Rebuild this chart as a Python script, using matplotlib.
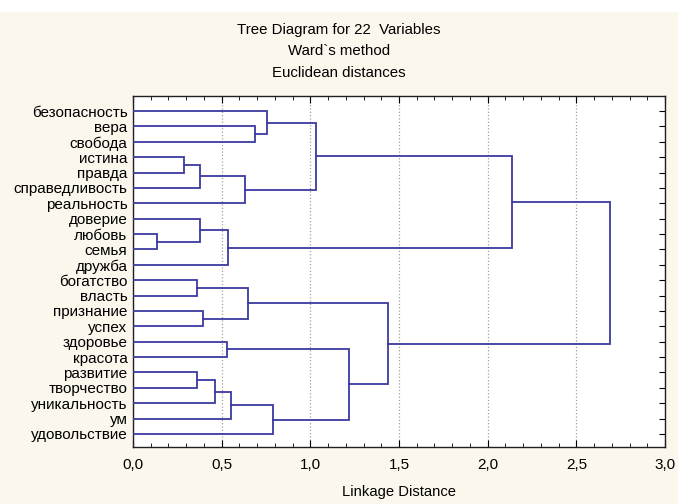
import numpy as np
import matplotlib.pyplot as plt
from matplotlib.patches import Rectangle
from matplotlib.ticker import MultipleLocator, FuncFormatter

plt.rcParams['font.family'] = ['Liberation Sans', 'DejaVu Sans']

# leaves, top to bottom
labels = ['безопасность', 'вера', 'свобода', 'истина', 'правда', 'справедливость',
          'реальность', 'доверие', 'любовь', 'семья', 'дружба', 'богатство', 'власть',
          'признание', 'успех', 'здоровье', 'красота', 'развитие', 'творчество',
          'уникальность', 'ум', 'удовольствие']

# merges: new cluster id = 22 + index, (child a, child b, linkage distance)
merge_a = [8, 3, 11, 17, 7, 23, 13, 25, 15, 26, 29, 27, 24, 1, 0, 32, 30, 36, 34, 39, 41]
merge_b = [9, 4, 12, 18, 22, 5, 14, 19, 16, 10, 20, 6, 28, 2, 35, 21, 37, 33, 38, 31, 40]
merge_h = [0.135, 0.29, 0.36, 0.36, 0.38, 0.38, 0.395, 0.46, 0.53, 0.535, 0.55,
           0.63, 0.65, 0.69, 0.755, 0.79, 1.22, 1.03, 1.44, 2.14, 2.69]

line_col = '#3a3aa0'

fig = plt.figure(figsize=(6.78, 5.04), dpi=100, facecolor='#fcf7ec')
fig.patches.append(Rectangle((0, 1 - 12 / 504), 1, 12 / 504, transform=fig.transFigure,
                             facecolor='white', edgecolor='none', zorder=0))
ax = fig.add_axes([133 / 678, 1 - 447 / 504, 532 / 678, 351 / 504])
ax.set_facecolor('white')

n = len(labels)
pos = {i: float(i) for i in range(n)}
hgt = {i: 0.0 for i in range(n)}
for k, (a, b, h) in enumerate(zip(merge_a, merge_b, merge_h)):
    cid = n + k
    ya, yb = pos[a], pos[b]
    ax.plot([hgt[a], h, h, hgt[b]], [ya, ya, yb, yb], color=line_col, lw=1.3,
            solid_joinstyle='miter', zorder=3)
    pos[cid] = (ya + yb) / 2
    hgt[cid] = h

ax.set_xlim(0, 3.0)
ax.set_ylim(n - 1 + 0.85, -0.98)
ax.set_yticks(range(n))
ax.set_yticklabels(labels, fontsize=11)
ax.tick_params(axis='y', left=False, right=True, direction='in', length=4, pad=4)

ax.xaxis.set_major_locator(MultipleLocator(0.5))
ax.xaxis.set_minor_locator(MultipleLocator(0.1))
ax.xaxis.set_major_formatter(FuncFormatter(lambda v, p: f'{v:.1f}'.replace('.', ',')))
ax.tick_params(axis='x', which='both', top=True, direction='in', labelsize=11, pad=8)
ax.tick_params(axis='x', which='major', length=5)
ax.tick_params(axis='x', which='minor', length=3)
ax.grid(axis='x', which='major', color='#a0a0a0', linestyle=':', lw=0.9)
for s in ax.spines.values():
    s.set_color('#202020')
    s.set_linewidth(1.0)

ax.set_xlabel('Linkage Distance', fontsize=10.6, labelpad=9)

fig.text(0.5, 1 - 30 / 504, 'Tree Diagram for 22  Variables', ha='center', va='center', fontsize=10.8)
fig.text(0.5, 1 - 51 / 504, 'Ward`s method', ha='center', va='center', fontsize=10.8)
fig.text(0.5, 1 - 73 / 504, 'Euclidean distances', ha='center', va='center', fontsize=10.8)

fig.savefig('out.png', dpi=100, facecolor=fig.get_facecolor())
